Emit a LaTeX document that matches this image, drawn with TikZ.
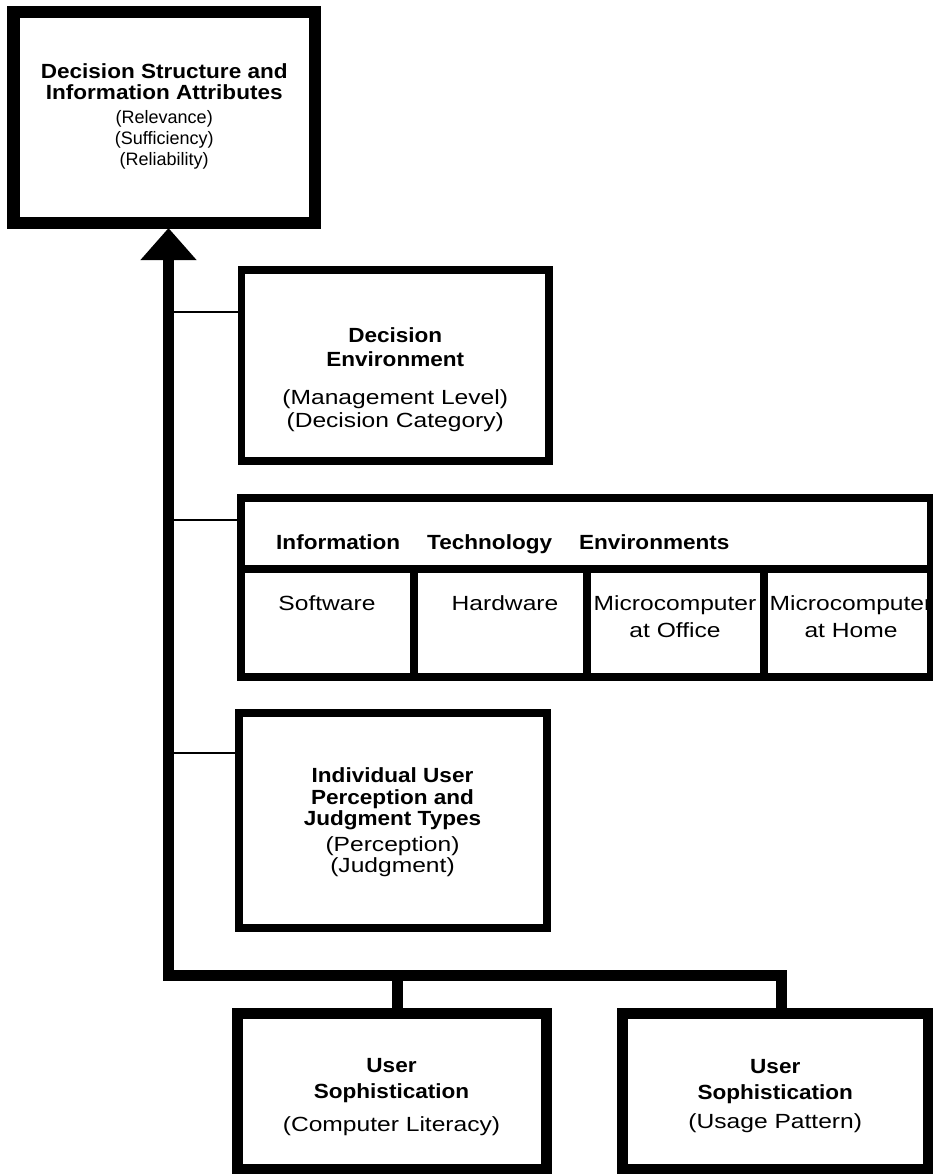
\documentclass[tikz,border=0pt]{standalone}
\usepackage{fontspec}
\setmainfont{Liberation Sans}
\newfontfamily\titleface[FakeStretch=1.1]{Liberation Sans}
\newfontfamily\noteface[FakeStretch=1.2]{Liberation Sans}
\usepackage{tikz}
\usetikzlibrary{arrows.meta, positioning}

\newcommand{\boxtitle}[1]{{\titleface\bfseries #1}}
\newcommand{\topnote}[1]{{\normalfont\fontsize{18}{21}\selectfont #1}}

\begin{document}
\begin{tikzpicture}[x=1pt, y=1pt,
        block/.style={draw, rectangle, outer sep=0pt, inner sep=0pt},
        cell/.style={block, line width=8pt, minimum height=108pt},
        blocktext/.style={align=center, inner sep=0pt, font=\noteface\fontsize{20.5}{#1}\selectfont},
        blocktext/.default=21.5,
        headtext/.style={anchor=base west, inner sep=0pt, font=\titleface\bfseries\fontsize{20.5}{24}\selectfont},
        celltext/.style={anchor=north, align=center, inner sep=0pt, font=\noteface\fontsize{20.5}{27}\selectfont},
        bus/.style={line width=11pt},
        tick/.style={line width=2pt}]

        \fill[white] (0,0) rectangle (933,-1174);
        \useasboundingbox (0,0) rectangle (933,-1174);

% Decision structure
        \node[block, line width=12.5pt, minimum width=301.5pt, minimum height=211pt] (topbox) at (164.25,-117.5) {};
        \node[blocktext=21] (toptext) at ([yshift=1pt]topbox.center)
        {\boxtitle{Decision Structure and}\\\boxtitle{Information Attributes}\\[3pt]
         \topnote{(Relevance)}\\\topnote{(Sufficiency)}\\\topnote{(Reliability)}};

% Decision environment
        \node[block, line width=7.5pt, minimum width=307.5pt, minimum height=191pt] (envbox) at (395.25,-365.5) {};
        \node[blocktext=23.5] (envtext) at ([yshift=-14.5pt]envbox.center)
        {\boxtitle{Decision}\\\boxtitle{Environment}\\[14.5pt]
         (Management Level)\\(Decision Category)};

% Information technology table
        \node[block, line width=8pt, minimum width=690pt, minimum height=71.5pt] (infohead) at (585.5,-533.25) {};
        \node[cell, minimum width=173pt, anchor=north west] (software) at (infohead.south west) {};
        \node[cell, minimum width=173pt, right=0pt of software] (hardware) {};
        \node[cell, minimum width=177pt, right=0pt of hardware] (office) {};
        \node[cell, minimum width=167pt, right=0pt of office] (home) {};

        \node[headtext] (infotext) at ([xshift=35.5pt, yshift=-15.75pt]infohead.west)
        {Information\hspace{27pt}Technology\hspace{27pt}Environments};
        \node[celltext] (softtext) at ([yshift=-22.6pt]software.north) {\strut Software};
        \node[celltext] (hardtext) at ([xshift=5pt, yshift=-22.6pt]hardware.north) {\strut Hardware};
        \node[celltext] (officetext) at ([yshift=-22.6pt]office.north) {\strut Microcomputer\\at Office};
        \node[celltext] (hometext) at ([xshift=4pt, yshift=-22.6pt]home.north) {\strut Microcomputer\\at Home};

% Individual user
        \node[block, line width=8pt, minimum width=308pt, minimum height=215pt] (userbox) at (392.5,-820.5) {};
        \node[blocktext=21.5] (usertext) at ([yshift=-2pt]userbox.center)
        {\boxtitle{Individual User}\\\boxtitle{Perception and}\\\boxtitle{Judgment Types}\\[4pt]
         (Perception)\\(Judgment)};

% User sophistication
        \node[block, line width=11pt, minimum width=309pt, minimum height=156pt] (literacy) at (391.5,-1091) {};
        \node[blocktext=26] (literacytext) at ([yshift=-6.5pt]literacy.center)
        {\boxtitle{User}\\\boxtitle{Sophistication}\\[7pt](Computer Literacy)};
        \node[block, line width=11pt, minimum width=306.5pt, minimum height=156pt] (usage) at (775.25,-1091) {};
        \node[blocktext=26] (usagetext) at ([yshift=-5.5pt]usage.center)
        {\boxtitle{User}\\\boxtitle{Sophistication}\\[3pt](Usage Pattern)};

% Bus and arrow
        \coordinate (corner) at (168.5,-975);
        \coordinate (tip) at (corner |- topbox.south);
        \coordinate (drop) at ([xshift=6pt]literacy.north);
        \draw[bus, -{Triangle[length=32pt, width=54pt]}]
        ([xshift=6pt]usage.north) |- (corner) -- ([yshift=-5pt]tip);
        \draw[bus] (drop) -- (drop |- corner);

% Taps
        \coordinate (envtap) at ([yshift=-42pt]envbox.north west);
        \coordinate (infotap) at ([yshift=-22.5pt]infohead.north west);
        \coordinate (usertap) at ([yshift=-40pt]userbox.north west);
        \foreach \t in {envtap, infotap, usertap} {
          \draw[tick] (\t) -- (\t -| corner);
        }

\end{tikzpicture}
\end{document}
